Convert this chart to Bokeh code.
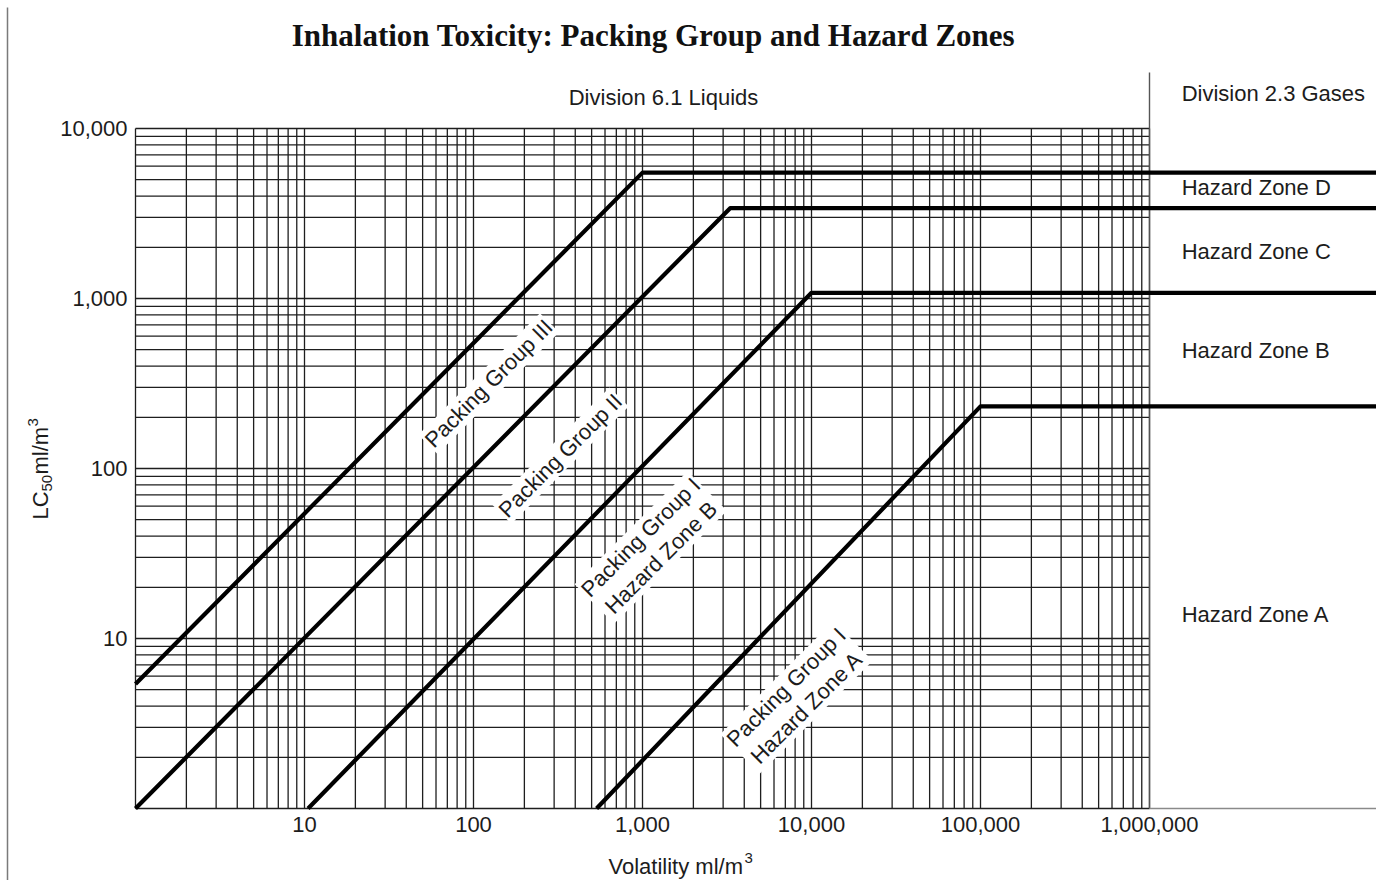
import math
from bokeh.plotting import figure
from bokeh.models import Range1d, Label
from bokeh.core.properties import value
from bokeh.embed import file_html
from bokeh.resources import INLINE

# ---------------- data ----------------
x_tick_values = [10, 100, 1000, 10000, 100000, 1000000]
x_tick_labels = ["10", "100", "1,000", "10,000", "100,000", "1,000,000"]
y_tick_values = [10, 100, 1000, 10000]
y_tick_labels = ["10", "100", "1,000", "10,000"]

# boundary lines (volatility ml/m3, LC50 ml/m3); last point runs to the right edge
pg3_vol = [1, 1000]
pg3_lc50 = [5.4, 5500]
pg2_vol = [1, 3300]
pg2_lc50 = [1, 3400]
pg1b_vol = [10.5, 10000]
pg1b_lc50 = [1, 1080]
pg1a_vol = [535, 100000]
pg1a_lc50 = [1, 232]

# log-paper grid multiples
grid_mult = [1, 2, 3, 4, 5, 6, 7, 8, 9]
x_decades = [1, 10, 100, 1000, 10000, 100000]
y_decades = [1, 10, 100, 1000]
grid_x_max = 1000000
grid_y_max = 10000
sep_top = 10 ** 4.33

zone_labels = ["Division 2.3 Gases", "Hazard Zone D", "Hazard Zone C",
               "Hazard Zone B", "Hazard Zone A"]
zone_label_y = [16070, 4500, 1890, 494, 13.8]
zone_label_x = 1.55e6

diag_labels = ["Packing Group III", "Packing Group II",
               "Packing Group I\nHazard Zone B", "Packing Group I\nHazard Zone A"]
diag_label_x = [123, 327, 1120, 8150]
diag_label_y = [316, 119, 34.3, 4.5]

# ---------------- layout ----------------
W, H = 1376, 880
PXX, PXY = 169.0, 170.0        # pixels per decade
X0PX, Y0PX = 135.0, 808.0      # pixel position of volatility 1 / LC50 1
x_lo = 10 ** (-X0PX / PXX)
x_hi = 10 ** ((W - X0PX) / PXX)
y_lo = 10 ** (-(H - Y0PX) / PXY)
y_hi = 10 ** (Y0PX / PXY)


def dx(px):
    """page pixel column -> volatility value"""
    return 10 ** ((px - X0PX) / PXX)


def dy(py):
    """page pixel row -> LC50 value"""
    return 10 ** ((Y0PX - py) / PXY)


FONT = "Liberation Sans"
TXT = "#1c1c1c"

p = figure(width=W, height=H, x_axis_type="log", y_axis_type="log",
           x_range=Range1d(x_lo, x_hi), y_range=Range1d(y_lo, y_hi),
           output_backend="svg", toolbar_location=None,
           min_border=0, min_border_left=0, min_border_right=0,
           min_border_top=0, min_border_bottom=0)
p.xaxis.visible = False
p.yaxis.visible = False
p.outline_line_color = None
p.xgrid.grid_line_color = None
p.ygrid.grid_line_color = None
p.background_fill_color = "white"
p.border_fill_color = "white"

# page edge line on the left
p.segment(x0=[dx(7)], y0=[dy(7)], x1=[dx(7)], y1=[y_lo],
          line_color="#7a7a7a", line_width=1.5)

# log-paper grid
gx = [m * d for d in x_decades for m in grid_mult] + [grid_x_max]
gy = [m * d for d in y_decades for m in grid_mult] + [grid_y_max]
p.segment(x0=gx, y0=[1] * len(gx), x1=gx, y1=[grid_y_max] * len(gx),
          line_color="#1e1e1e", line_width=1.3)
p.segment(x0=[1] * len(gy), y0=gy, x1=[grid_x_max] * len(gy), y1=gy,
          line_color="#1e1e1e", line_width=1.3)
# division separator and baseline extension
p.segment(x0=[grid_x_max], y0=[1], x1=[grid_x_max], y1=[sep_top],
          line_color="#555555", line_width=1.4)
p.segment(x0=[grid_x_max], y0=[1], x1=[x_hi], y1=[1],
          line_color="#8a8a8a", line_width=1.6)

# boundary lines
for xs, ys in ((pg3_vol, pg3_lc50), (pg2_vol, pg2_lc50),
               (pg1b_vol, pg1b_lc50), (pg1a_vol, pg1a_lc50)):
    p.line(xs + [x_hi], ys + [ys[-1]], line_color="black", line_width=4.2,
           line_join="round")

# tick labels
p.text(x=x_tick_values, y=[dy(824)] * len(x_tick_values),
       text=x_tick_labels, text_align="center", text_baseline="middle",
       text_font=value(FONT), text_font_size="22px", text_color=TXT)
p.text(x=[dx(127)] * len(y_tick_values), y=y_tick_values,
       text=y_tick_labels, text_align="right", text_baseline="middle",
       text_font=value(FONT), text_font_size="22px", text_color=TXT)

# diagonal labels
for t, x, y in zip(diag_labels, diag_label_x, diag_label_y):
    p.add_layout(Label(x=x, y=y, text=t, angle=math.pi / 4, angle_units="rad",
                       text_align="center", text_baseline="middle",
                       text_font=FONT, text_font_size="22px", text_color=TXT,
                       text_line_height=1.15, padding=1,
                       background_fill_color="white", background_fill_alpha=1.0))

# zone labels on the right
p.text(x=[zone_label_x] * len(zone_labels), y=zone_label_y, text=zone_labels,
       text_align="left", text_baseline="middle", text_font=value(FONT),
       text_font_size="22px", text_color=TXT)

p.add_layout(Label(x=1331, y=15220, text="Division 6.1 Liquids",
                   text_align="center", text_baseline="middle", text_font=FONT,
                   text_font_size="22px", text_color=TXT))

# title
p.add_layout(Label(x=1161, y=35240,
                   text="Inhalation Toxicity: Packing Group and Hazard Zones",
                   text_align="center", text_baseline="middle",
                   text_font="Liberation Serif", text_font_style="bold",
                   text_font_size="31px", text_color="#111111"))


def piece(text, px, py, size, angle=0.0):
    p.add_layout(Label(x=dx(px), y=dy(py), text=text, angle=angle,
                       angle_units="rad", text_align="left",
                       text_baseline="middle", text_font=FONT,
                       text_font_size=size, text_color=TXT))


# x axis title: "Volatility ml/m" + superscript 3
piece("Volatility ml/m", 608, 866, "22px")
piece("3", 744, 857, "15px")

# y axis title (rotated): "LC" + subscript 50 + "ml/m" + superscript 3
piece("LC", 40, 519, "22px", math.pi / 2)
piece("50", 46, 491, "15px", math.pi / 2)
piece("ml/m", 40, 474, "22px", math.pi / 2)
piece("3", 32, 426, "15px", math.pi / 2)

open("out.html", "w").write(file_html(p, INLINE))
